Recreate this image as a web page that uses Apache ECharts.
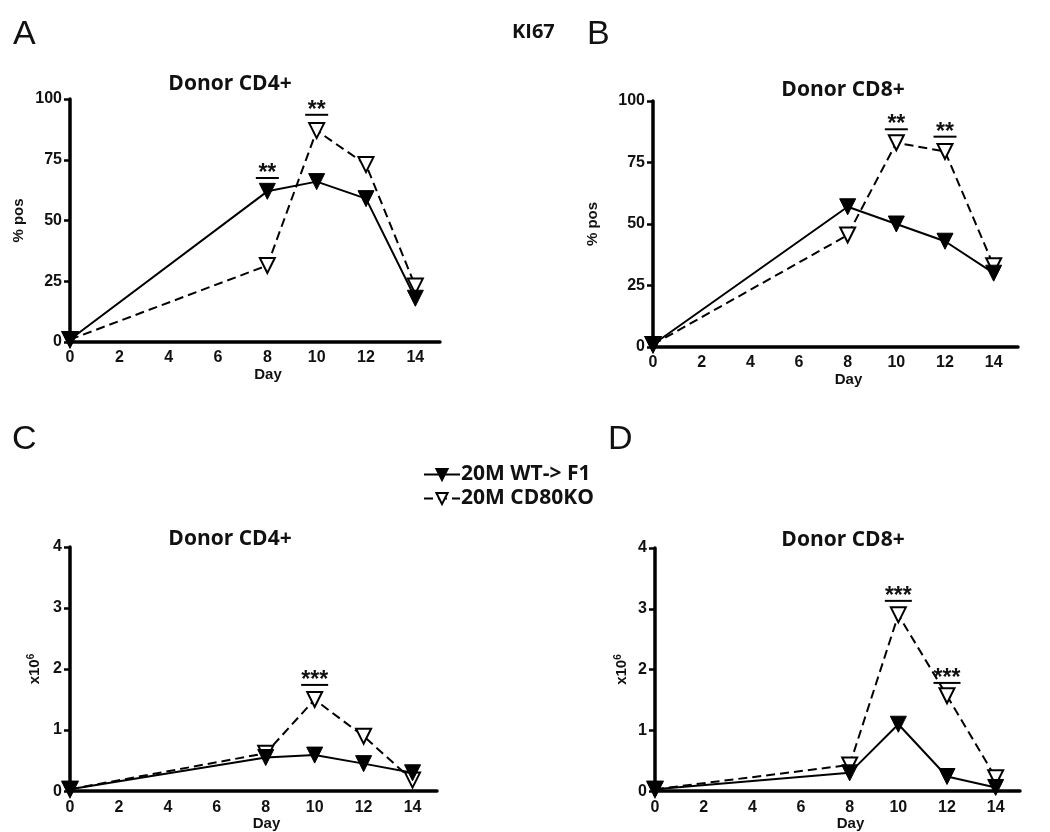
<!DOCTYPE html>
<html><head><meta charset="utf-8">
<script src="https://cdn.jsdelivr.net/npm/echarts@6/dist/echarts.min.js"></script>
<style>html,body{margin:0;padding:0;background:#fff}#c{width:1050px;height:832px}</style>
</head><body><div id="c"></div>
<script>
// ---- data ----
const days = [0, 8, 10, 12, 14];
const seriesNames = ['20M WT-> F1', '20M CD80KO'];
// Panel A: KI67 % pos, Donor CD4+
const wtA = [1, 62, 66, 59, 18];
const koA = [1, 31.5, 87, 73, 23];
// Panel B: KI67 % pos, Donor CD8+
const wtB = [1, 57, 50, 43, 30];
const koB = [1, 45.5, 83, 79.5, 33];
// Panel C: cell numbers x10^6, Donor CD4+
const wtC = [0.03, 0.55, 0.59, 0.45, 0.3];
const koC = [0.03, 0.62, 1.5, 0.9, 0.18];
// Panel D: cell numbers x10^6, Donor CD8+
const wtD = [0.03, 0.3, 1.1, 0.24, 0.06];
const koD = [0.03, 0.43, 2.9, 1.57, 0.22];
// significance bars: [day, level, stars]
const sigA = [[8, 67.5, '**'], [10, 93.5, '**']];
const sigB = [[10, 88.5, '**'], [12, 85.5, '**']];
const sigC = [[10, 1.74, '***']];
const sigD = [[10, 3.13, '***'], [12, 1.78, '***']];
const xTicks = [0, 2, 4, 6, 8, 10, 12, 14];
const panelTitles = ['Donor CD4+', 'Donor CD8+', 'Donor CD4+', 'Donor CD8+'];
const panelLetters = ['A', 'B', 'C', 'D'];
const yNames = ['% pos', '% pos', 'x10{sup|6}', 'x10{sup|6}'];

// ---- layout ----
const grids = [
  {left: 70, top: 99, width: 370, height: 243},
  {left: 653, top: 101, width: 365, height: 246},
  {left: 70, top: 547, width: 367, height: 245},
  {left: 655, top: 548, width: 365, height: 245}
];
const yMax = [100, 100, 4, 4];
const yInt = [25, 25, 1, 1];
const yGap = [44, 53, 26, 24];
const tickFont = 'Liberation Sans, Arial, sans-serif';
const titleFont = 'Open Sans, sans-serif';

const chart = echarts.init(document.getElementById('c'));
const xAxes = [], yAxes = [], series = [];
const data = [[wtA, koA], [wtB, koB], [wtC, koC], [wtD, koD]];
const sigs = [sigA, sigB, sigC, sigD];

grids.forEach((g, i) => {
  xAxes.push({
    type: 'value', gridIndex: i, min: 0, max: 15, interval: 2,
    axisLine: {show: true, onZero: false, lineStyle: {color: '#000', width: 3.5}},
    axisTick: {show: false},
    splitLine: {show: false},
    axisLabel: {
      margin: 8, color: '#111', fontFamily: tickFont, fontWeight: 'bold', fontSize: 16,
      formatter: v => xTicks.indexOf(v) >= 0 ? String(v) : ''
    },
    name: 'Day', nameLocation: 'middle', nameGap: 24,
    nameTextStyle: {color: '#111', fontFamily: tickFont, fontWeight: 'bold', fontSize: 15, padding: [0, 0, 0, 26]}
  });
  yAxes.push({
    type: 'value', gridIndex: i, min: 0, max: yMax[i], interval: yInt[i],
    axisLine: {show: true, lineStyle: {color: '#000', width: 3.5}},
    axisTick: {show: true, length: 6, lineStyle: {color: '#000', width: 2.5}},
    splitLine: {show: false},
    axisLabel: {margin: 8, color: '#111', fontFamily: tickFont, fontWeight: 'bold', fontSize: 16},
    name: yNames[i], nameLocation: 'middle', nameGap: yGap[i], nameRotate: 90,
    nameTextStyle: {
      color: '#111', fontFamily: tickFont, fontWeight: 'bold', fontSize: 15,
      rich: {sup: {fontSize: 10, fontWeight: 'bold', fontFamily: tickFont, color: '#111', verticalAlign: 'top', padding: [0, 0, 8, 0]}}
    }
  });
  const [wt, ko] = data[i];
  series.push({
    name: seriesNames[1], type: 'line', xAxisIndex: i, yAxisIndex: i,
    data: days.map((d, k) => [d, ko[k]]),
    symbol: 'triangle', symbolRotate: 180, symbolSize: 15, clip: false,
    itemStyle: {color: '#fff', borderColor: '#000', borderWidth: 2},
    lineStyle: {color: '#000', width: 2, type: [9, 5]},
    z: 3
  });
  series.push({
    name: seriesNames[0], type: 'line', xAxisIndex: i, yAxisIndex: i,
    data: days.map((d, k) => [d, wt[k]]),
    symbol: 'triangle', symbolRotate: 180, symbolSize: 16, clip: false,
    itemStyle: {color: '#000', borderColor: '#000', borderWidth: 1},
    lineStyle: {color: '#000', width: 2},
    z: 4
  });
  const sg = sigs[i];
  series.push({
    type: 'custom', xAxisIndex: i, yAxisIndex: i, clip: false, z: 5,
    data: sg.map(s => [s[0], s[1]]),
    renderItem: (params, api) => {
      const p = api.coord([api.value(0), api.value(1)]);
      const txt = sg[params.dataIndex][2];
      const half = txt.length === 2 ? 11.5 : 13.5;
      return {
        type: 'group',
        children: [
          {type: 'line', shape: {x1: p[0] - half, y1: p[1], x2: p[0] + half, y2: p[1]},
           style: {stroke: '#000', lineWidth: 2}},
          {type: 'text', style: {text: txt, x: p[0], y: p[1] + 7, align: 'center', verticalAlign: 'bottom',
           font: 'bold 23px ' + tickFont, fill: '#111'}}
        ]
      };
    }
  });
});

const titles = [];
const titlePos = [[225, 69], [838, 75], [225, 524], [838, 525]];
panelTitles.forEach((t, i) => titles.push({
  text: t, left: titlePos[i][0], top: titlePos[i][1], textAlign: 'center',
  textStyle: {fontFamily: titleFont, fontWeight: 'bold', fontSize: 21, color: '#111'}
}));
const letterPos = [[8, 13], [582, 13], [7, 418], [603, 418]];
panelLetters.forEach((t, i) => titles.push({
  text: t, left: letterPos[i][0], top: letterPos[i][1],
  textStyle: {fontFamily: 'Liberation Sans, Arial, sans-serif', fontWeight: 'normal', fontSize: 34, color: '#111'}
}));
titles.push({text: 'KI67', left: 507, top: 17,
  textStyle: {fontFamily: titleFont, fontWeight: 'bold', fontSize: 20, color: '#111'}});

chart.setOption({
  backgroundColor: '#fff',
  animation: false,
  title: titles,
  legend: {
    data: seriesNames, orient: 'vertical', left: 418, top: 459, itemGap: 3,
    itemWidth: 36, itemHeight: 14, selectedMode: false,
    textStyle: {fontFamily: titleFont, fontWeight: 'bold', fontSize: 21, color: '#111', padding: [0, 0, 0, -4]}
  },
  grid: grids,
  xAxis: xAxes,
  yAxis: yAxes,
  series: series
});
</script></body></html>
